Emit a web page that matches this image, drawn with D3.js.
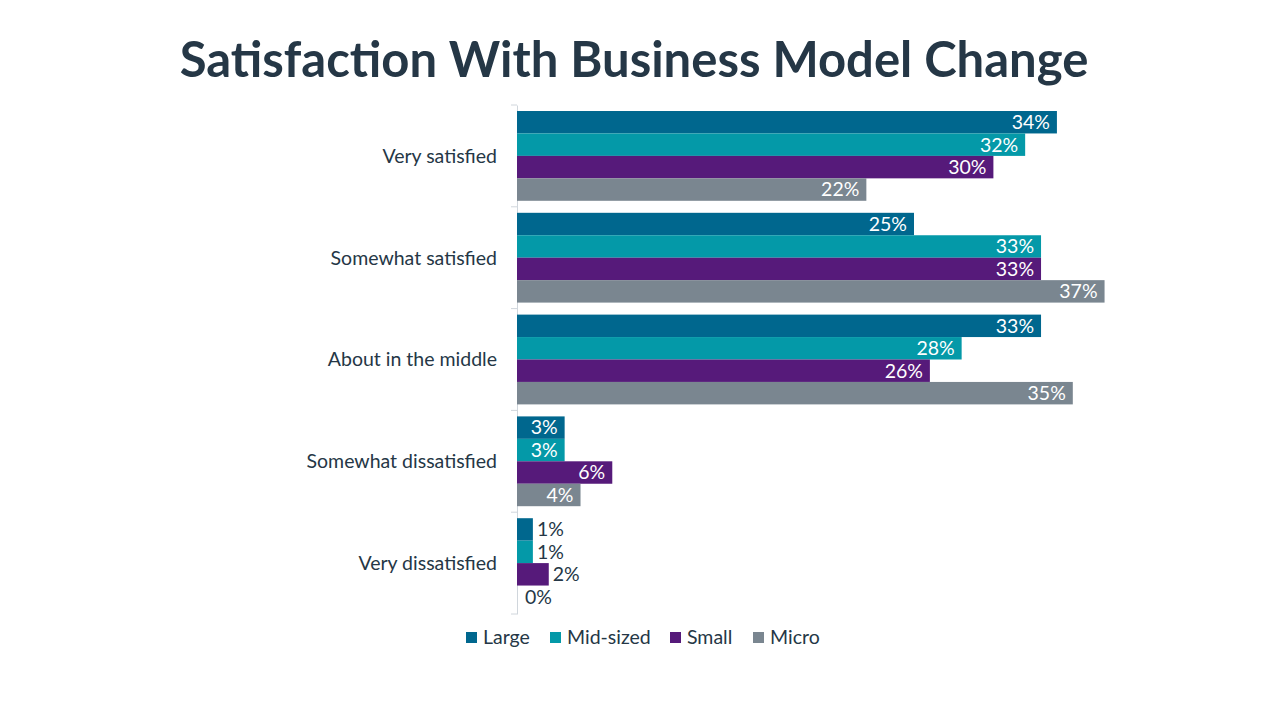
<!DOCTYPE html>
<html>
<head>
<meta charset="utf-8">
<script src="https://cdn.jsdelivr.net/npm/d3@7"></script>
<style>
  body { margin: 0; background: #fff; }
  svg text { font-family: "Lato", "Open Sans", sans-serif; }
</style>
</head>
<body>
<div id="chart"></div>
<script>
const categories = ["Very satisfied", "Somewhat satisfied", "About in the middle", "Somewhat dissatisfied", "Very dissatisfied"];
const seriesNames = ["Large", "Mid-sized", "Small", "Micro"];
const large = [34, 25, 33, 3, 1];
const midSized = [32, 33, 28, 3, 1];
const small = [30, 33, 26, 6, 2];
const micro = [22, 37, 35, 4, 0];
const colors = ["#00678e", "#0499a8", "#561a7a", "#7a8690"];

const seriesValues = [large, midSized, small, micro];

let margin = { top: 105, left: 517 },
    width = 1280,
    height = 720,
    plotH = 509,
    plotW = 40 * 15.88;

let svg = d3.select("#chart")
    .append("svg")
    .attr("width", width)
    .attr("height", height);

svg.append("text")
   .attr("x", 634)
   .attr("y", 77)
   .attr("text-anchor", "middle")
   .attr("font-size", "49px")
   .attr("font-weight", "bold")
   .attr("fill", "#253746")
   .text("Satisfaction With Business Model Change");

let g = svg.append("g")
   .attr("transform", "translate(" + margin.left + "," + margin.top + ")");

let y = d3.scaleBand().domain(categories).range([0, plotH]).paddingInner(0.118).paddingOuter(0.059);
let yOuter = d3.scaleBand().domain(categories).range([0, plotH]);
let ySub = d3.scaleBand().domain(seriesNames).range([0, y.bandwidth()]);
let x = d3.scaleLinear().domain([0, 40]).range([0, plotW]);

// axis line + ticks between categories
let yAxis = g.append("g").call(d3.axisLeft(yOuter).tickSize(0).tickFormat(""));
yAxis.select(".domain").attr("stroke", "#d0d6dc");
g.append("g").selectAll("line")
   .data(d3.range(categories.length + 1))
   .enter()
   .append("line")
   .attr("x1", -6).attr("x2", 0)
   .attr("y1", function(i) { return i * yOuter.step(); })
   .attr("y2", function(i) { return i * yOuter.step(); })
   .attr("stroke", "#d0d6dc");

g.append("g").selectAll("text")
   .data(categories)
   .enter()
   .append("text")
   .attr("x", -20)
   .attr("y", function(d) { return yOuter(d) + yOuter.bandwidth() / 2; })
   .attr("dy", "0.35em")
   .attr("text-anchor", "end")
   .attr("font-size", "19.5px")
   .attr("fill", "#253746")
   .text(function(d) { return d; });

let bars = [];
categories.forEach(function(c, ci) {
    seriesNames.forEach(function(s, si) {
        bars.push({ cat: c, series: s, si: si, value: seriesValues[si][ci] });
    });
});

g.append("g").selectAll("rect")
   .data(bars)
   .enter()
   .append("rect")
   .attr("x", 0)
   .attr("y", function(d) { return y(d.cat) + ySub(d.series); })
   .attr("width", function(d) { return x(d.value); })
   .attr("height", ySub.bandwidth())
   .attr("fill", function(d) { return colors[d.si]; });

g.append("g").selectAll("text")
   .data(bars)
   .enter()
   .append("text")
   .attr("x", function(d) {
       if (d.value >= 3) return x(d.value) - 7;
       return d.value === 0 ? x(d.value) + 8 : x(d.value) + 4;
   })
   .attr("y", function(d) { return y(d.cat) + ySub(d.series) + ySub.bandwidth() / 2; })
   .attr("dy", "0.35em")
   .attr("text-anchor", function(d) { return d.value >= 3 ? "end" : "start"; })
   .attr("font-size", "19.5px")
   .attr("fill", function(d) { return d.value >= 3 ? "#ffffff" : "#253746"; })
   .text(function(d) { return d.value + "%"; });

// legend
let legendX = [466, 550, 670, 753];
let legend = svg.append("g").selectAll("g")
   .data(seriesNames)
   .enter()
   .append("g")
   .attr("transform", function(d, i) { return "translate(" + legendX[i] + ",637)"; });
legend.append("rect")
   .attr("x", 0).attr("y", -5)
   .attr("width", 11).attr("height", 11)
   .attr("fill", function(d, i) { return colors[i]; });
legend.append("text")
   .attr("x", 17)
   .attr("y", 0)
   .attr("dy", "0.35em")
   .attr("font-size", "19.5px")
   .attr("fill", "#253746")
   .text(function(d) { return d; });
</script>
</body>
</html>
